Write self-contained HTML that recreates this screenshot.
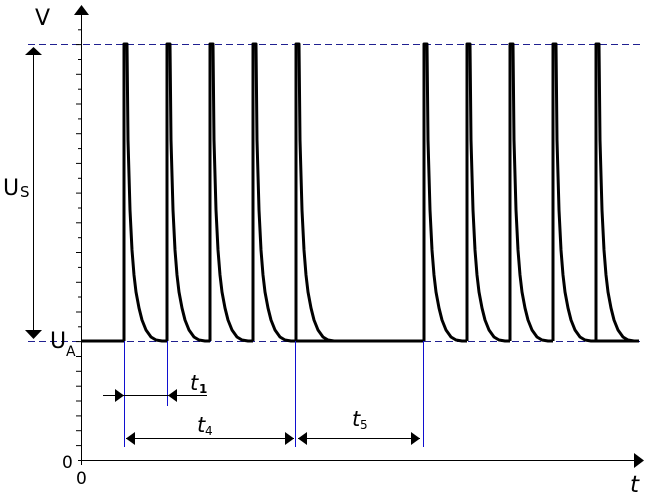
<!DOCTYPE html>
<html><head><meta charset="utf-8"><style>
html,body{margin:0;padding:0;background:#fff;width:653px;height:501px;overflow:hidden}
svg{display:block}
text{font-family:"DejaVu Sans","Liberation Sans",sans-serif;fill:#000}
</style></head><body>
<svg width="653" height="501" viewBox="0 0 653 501" xmlns="http://www.w3.org/2000/svg">
<defs>
<path id="p" d="M0,341 L0,44 L3,44 L4,140 L6,210 L8,250 L10,275 L12,292 L15,308 L18,320 L22,330 L27,337 L32,340 L38,341 L43,341" fill="none" stroke="#000" stroke-width="3" stroke-linejoin="round"/>
</defs>
<line x1="28" y1="44.5" x2="640" y2="44.5" stroke="#202090" stroke-width="1" stroke-dasharray="7,4"/>
<line x1="28" y1="341.5" x2="640" y2="341.5" stroke="#202090" stroke-width="1" stroke-dasharray="7,4"/>
<path d="M82,341 L124,341" stroke="#000" stroke-width="3"/>
<path d="M296,341 L424,341" stroke="#000" stroke-width="3"/>
<path d="M596,341 L637,341" stroke="#000" stroke-width="3"/>
<use href="#p" x="124"/><use href="#p" x="167"/><use href="#p" x="210"/><use href="#p" x="253"/><use href="#p" x="296"/>
<use href="#p" x="424"/><use href="#p" x="467"/><use href="#p" x="510"/><use href="#p" x="553"/><use href="#p" x="596"/>
<line x1="81.5" y1="12" x2="81.5" y2="465" stroke="#000" stroke-width="1"/>
<polygon points="81.5,5 74,15 89,15" fill="#000"/>
<line x1="78" y1="460.5" x2="636" y2="460.5" stroke="#000" stroke-width="1"/>
<polygon points="644,460.5 634,453 634,468" fill="#000"/>
<g stroke="#000" stroke-width="1">
<line x1="76" y1="445.6" x2="81" y2="445.6"/><line x1="76" y1="430.7" x2="81" y2="430.7"/><line x1="76" y1="415.9" x2="81" y2="415.9"/><line x1="76" y1="401" x2="81" y2="401"/><line x1="76" y1="386.2" x2="81" y2="386.2"/><line x1="76" y1="371.3" x2="81" y2="371.3"/><line x1="76" y1="356.5" x2="81" y2="356.5"/><line x1="76" y1="341.6" x2="81" y2="341.6"/>
<line x1="78" y1="326.8" x2="81" y2="326.8"/><line x1="76" y1="312" x2="81" y2="312"/><line x1="78" y1="297" x2="81" y2="297"/><line x1="76" y1="282.3" x2="81" y2="282.3"/><line x1="78" y1="267.4" x2="81" y2="267.4"/><line x1="76" y1="252.5" x2="81" y2="252.5"/><line x1="78" y1="237.7" x2="81" y2="237.7"/><line x1="76" y1="222.8" x2="81" y2="222.8"/><line x1="78" y1="208" x2="81" y2="208"/><line x1="76" y1="193.1" x2="81" y2="193.1"/><line x1="78" y1="178.3" x2="81" y2="178.3"/><line x1="76" y1="163.4" x2="81" y2="163.4"/><line x1="78" y1="148.6" x2="81" y2="148.6"/><line x1="76" y1="133.7" x2="81" y2="133.7"/><line x1="78" y1="118.9" x2="81" y2="118.9"/><line x1="76" y1="104" x2="81" y2="104"/><line x1="78" y1="89.2" x2="81" y2="89.2"/><line x1="76" y1="74.3" x2="81" y2="74.3"/><line x1="78" y1="59.5" x2="81" y2="59.5"/><line x1="76" y1="44.6" x2="81" y2="44.6"/><line x1="78" y1="29.8" x2="81" y2="29.8"/>
</g>
<line x1="33.5" y1="55" x2="33.5" y2="330" stroke="#000" stroke-width="1"/>
<polygon points="33.5,47 25,55 42,55" fill="#000"/>
<polygon points="33.5,339 25,330 42,330" fill="#000"/>
<g stroke="#1010d0" stroke-width="1">
<line x1="124.5" y1="341" x2="124.5" y2="447"/>
<line x1="167.5" y1="341" x2="167.5" y2="406"/>
<line x1="295.5" y1="341" x2="295.5" y2="447"/>
<line x1="423.5" y1="341" x2="423.5" y2="447"/>
</g>
<line x1="103" y1="395.5" x2="207" y2="395.5" stroke="#000"/>
<polygon points="124,395.5 115,389 115,402" fill="#000"/>
<polygon points="168,395.5 177,389 177,402" fill="#000"/>
<line x1="126" y1="438.5" x2="294" y2="438.5" stroke="#000"/>
<polygon points="126,438.5 135,432 135,445" fill="#000"/>
<polygon points="294,438.5 285,432 285,445" fill="#000"/>
<line x1="298" y1="438.5" x2="420" y2="438.5" stroke="#000"/>
<polygon points="298,438.5 307,432 307,445" fill="#000"/>
<polygon points="420,438.5 411,432 411,445" fill="#000"/>
<text x="35" y="25" font-size="22">V</text>
<text x="3" y="195" font-size="22">U</text><text x="20" y="197" font-size="15">S</text>
<text x="50" y="348" font-size="22">U</text><text x="66" y="356" font-size="14">A</text>
<text x="62" y="468" font-size="17">0</text>
<text x="76" y="484" font-size="17">0</text>
<text x="190" y="390" font-size="21" font-style="italic">t</text><text x="199" y="393" font-size="12" font-weight="bold">1</text>
<text x="197" y="432" font-size="21" font-style="italic">t</text><text x="205" y="435" font-size="12">4</text>
<text x="352" y="426" font-size="21" font-style="italic">t</text><text x="360" y="429" font-size="12">5</text>
<text x="630" y="492" font-size="23" font-style="italic">t</text>
</svg>
</body></html>
